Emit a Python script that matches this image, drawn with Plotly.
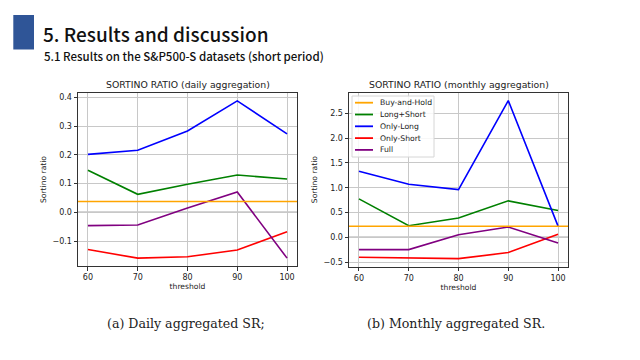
import plotly.graph_objects as go

thresholds = [60, 70, 80, 90, 100]
series_names = ["Buy-and-Hold", "Long+Short", "Only-Long", "Only-Short", "Full"]
colors = ["orange", "green", "blue", "red", "purple"]

# Daily aggregation
daily_bh = 0.038
daily_long_short = [0.147, 0.063, 0.098, 0.130, 0.116]
daily_only_long = [0.202, 0.216, 0.283, 0.388, 0.273]
daily_only_short = [-0.129, -0.159, -0.154, -0.131, -0.067]
daily_full = [-0.046, -0.044, 0.015, 0.071, -0.159]

# Monthly aggregation
monthly_bh = 0.225
monthly_long_short = [0.775, 0.234, 0.388, 0.735, 0.541]
monthly_only_long = [1.330, 1.070, 0.963, 2.754, 0.227]
monthly_only_short = [-0.401, -0.421, -0.428, -0.307, 0.060]
monthly_full = [-0.247, -0.247, 0.053, 0.207, -0.114]

y_ticks_daily = [-0.1, 0.0, 0.1, 0.2, 0.3, 0.4]
y_ticks_monthly = [-0.5, 0.0, 0.5, 1.0, 1.5, 2.0, 2.5]

# page body has an 8px margin; lay out in window pixels
OFF = 8
W, H = 640 - 2 * OFF, 360 - 2 * OFF
fig = go.Figure()


def px_x(p):
    return (p - OFF) / W


def px_y(p):
    return 1 - (p - OFF) / H


TXT = "#222222"
panels = [
    dict(xa="x", ya="y", bh=daily_bh,
         data=[daily_long_short, daily_only_long, daily_only_short, daily_full]),
    dict(xa="x2", ya="y2", bh=monthly_bh,
         data=[monthly_long_short, monthly_only_long, monthly_only_short, monthly_full]),
]

for p in panels:
    fig.add_shape(type="line", xref=p["xa"] + " domain", yref=p["ya"], x0=0, x1=1,
                  y0=0, y1=0, line=dict(color="#555555", width=1.1), layer="below")
    fig.add_shape(type="line", xref=p["xa"] + " domain", yref=p["ya"], x0=0, x1=1,
                  y0=p["bh"], y1=p["bh"], line=dict(color=colors[0], width=1.6))
    for name, col, vals in zip(series_names[1:], colors[1:], p["data"]):
        fig.add_trace(go.Scatter(x=thresholds, y=vals, mode="lines", name=name,
                                 line=dict(color=col, width=1.6),
                                 xaxis=p["xa"], yaxis=p["ya"], showlegend=False))


def rng(vals_list, extra):
    allv = [v for vals in vals_list for v in vals] + [extra, 0]
    lo, hi = min(allv), max(allv)
    m = (hi - lo) * 0.05
    return [lo - m, hi + m]


axis_common = dict(showline=True, mirror=True, linecolor="#333333", linewidth=1,
                   showgrid=True, gridcolor="#c8c8c8", gridwidth=1,
                   ticks="outside", ticklen=3.5, tickcolor="#333333", zeroline=False,
                   tickfont=dict(family="DejaVu Sans", size=8, color=TXT))
title_font = dict(family="DejaVu Sans", size=7.6, color=TXT)

fig.update_layout(
    width=W, height=H, margin=dict(l=0, r=0, t=0, b=0),
    paper_bgcolor="white", plot_bgcolor="white",
    showlegend=False,
    xaxis=dict(domain=[px_x(78), px_x(297)], range=[58, 102], tickvals=thresholds, anchor="y",
               title=dict(text="threshold", font=title_font, standoff=2), **axis_common),
    yaxis=dict(domain=[px_y(266), px_y(93)], anchor="x",
               range=rng(panels[0]["data"], daily_bh), tickvals=y_ticks_daily, tickformat=".1f",
               title=dict(text="Sortino ratio", font=title_font, standoff=4), **axis_common),
    xaxis2=dict(domain=[px_x(349), px_x(568)], range=[58, 102], tickvals=thresholds, anchor="y2",
                title=dict(text="threshold", font=title_font, standoff=2), **axis_common),
    yaxis2=dict(domain=[px_y(266.5), px_y(92.7)], anchor="x2",
                range=rng(panels[1]["data"], monthly_bh), tickvals=y_ticks_monthly, tickformat=".1f",
                title=dict(text="Sortino ratio", font=title_font, standoff=4), **axis_common),
)

# manual legend (matplotlib-style compact legend) in the monthly panel
lg_x0, lg_x1, lg_y0, lg_y1 = 352, 434, 96, 157
fig.add_shape(type="rect", xref="paper", yref="paper",
              x0=px_x(lg_x0), x1=px_x(lg_x1), y0=px_y(lg_y1), y1=px_y(lg_y0),
              fillcolor="rgba(255,255,255,0.85)", line=dict(color="#d6d6d6", width=1))
for i, (name, col) in enumerate(zip(series_names, colors)):
    yy = 102.7 + i * 11.8
    fig.add_shape(type="line", xref="paper", yref="paper",
                  x0=px_x(355), x1=px_x(373), y0=px_y(yy), y1=px_y(yy),
                  line=dict(color=col, width=1.8))
    fig.add_annotation(x=px_x(377.5), y=px_y(yy), xref="paper", yref="paper", text=name,
                       showarrow=False, font=dict(family="DejaVu Sans", size=7.7, color=TXT),
                       xanchor="left", yanchor="middle")

# subplot titles
for cx, txt in [((78 + 297) / 2, "SORTINO RATIO (daily aggregation)"),
                ((349 + 568) / 2, "SORTINO RATIO (monthly aggregation)")]:
    fig.add_annotation(x=px_x(cx), y=px_y(85), xref="paper", yref="paper", text=txt,
                       showarrow=False, font=dict(family="DejaVu Sans", size=9.3, color=TXT),
                       xanchor="center", yanchor="middle")

# header
fig.add_shape(type="rect", xref="paper", yref="paper", x0=px_x(13.3), x1=px_x(34),
              y0=px_y(49.5), y1=px_y(15), fillcolor="#2F5597", line=dict(width=0))
fig.add_annotation(x=px_x(41), y=px_y(33), xref="paper", yref="paper",
                   text="5. Results and discussion", showarrow=False,
                   font=dict(family="Noto Sans CJK KR", size=19, color="#111111", weight=500),
                   xanchor="left", yanchor="middle")
fig.add_annotation(x=px_x(42), y=px_y(56), xref="paper", yref="paper",
                   text="5.1 Results on the S&P500-S datasets (short period)", showarrow=False,
                   font=dict(family="Noto Sans CJK KR", size=11.5, color="#111111", weight=500),
                   xanchor="left", yanchor="middle")

# captions
fig.add_annotation(x=px_x(105), y=px_y(323), xref="paper", yref="paper",
                   text="(a) Daily aggregated SR;", showarrow=False,
                   font=dict(family="DejaVu Serif", size=12.6, color=TXT),
                   xanchor="left", yanchor="middle")
fig.add_annotation(x=px_x(365), y=px_y(323), xref="paper", yref="paper",
                   text="(b) Monthly aggregated SR.", showarrow=False,
                   font=dict(family="DejaVu Serif", size=12.6, color=TXT),
                   xanchor="left", yanchor="middle")

fig.write_html("out.html")
